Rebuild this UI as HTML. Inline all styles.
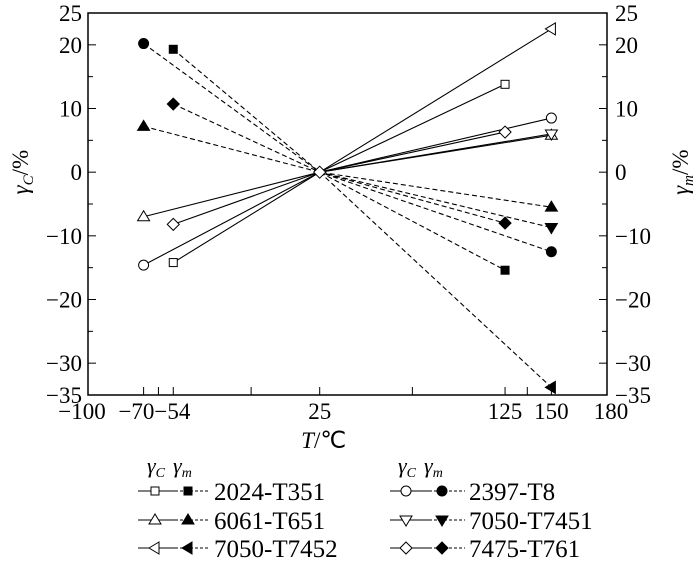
<!DOCTYPE html>
<html><head><meta charset="utf-8"><style>
body{margin:0;background:#fff;font-family:"Liberation Serif","Times New Roman",serif}
svg text{font-family:"Liberation Serif","Times New Roman",serif;fill:#000}
</style></head><body>
<svg id="c" width="700" height="570" xmlns="http://www.w3.org/2000/svg" font-family="Liberation Serif, serif"></svg>
<script>
const xTicksMajor=[-100,-70,-54,25,125,150,180];
const xTicksMinor=[-62,-12,75,137];
const yTicks=[25,20,10,0,-10,-20,-30,-35];
const yMinor=[15,5,-5,-15,-25];
const names=["2024-T351","6061-T651","7050-T7452","2397-T8","7050-T7451","7475-T761"];
const markers=["square","tri-up","tri-left","circle","tri-down","diamond"];
const cX=[[-54,25,125],[-70,25,150],[25,150],[-70,25,150],[25,150],[-54,25,125]];
const cY=[[-14.2,0,13.8],[-7.0,0,5.8],[0,22.5],[-14.6,0,8.5],[0,6.0],[-8.2,0,6.3]];
const mX=[[-54,25,125],[-70,25,150],[25,150],[-70,25,150],[25,150],[-54,25,125]];
const mY=[[19.3,0,-15.4],[7.2,0,-5.5],[0,-33.8],[20.2,0,-12.5],[0,-8.7],[10.7,0,-8.0]];

const L=88,R=607,T=13,B=395,xmin=-100,xmax=180,ymin=-35,ymax=25;
const sx=v=>L+(v-xmin)/(xmax-xmin)*(R-L);
const sy=v=>B-(v-ymin)/(ymax-ymin)*(B-T);
const svg=document.getElementById('c');
const NS="http://www.w3.org/2000/svg";
function mk(tag,at,parent){const e=document.createElementNS(NS,tag);for(const k in at)e.setAttribute(k,at[k]);(parent||svg).appendChild(e);return e;}
function txt(s,x,y,anchor,size,name){const t=mk('text',{x:x,y:y,'text-anchor':anchor,'font-size':size,'font-family':'Liberation Serif, serif'});t.textContent=s;


return t;}
function marker(type,x,y,filled,name){
const f=filled?'#000':'#fff';const s=5;let e;
if(type==='square')e=mk('rect',{x:x-s+1,y:y-s+1,width:2*s-2,height:2*s-2,fill:f,stroke:'#000','stroke-width':1});
else if(type==='circle')e=mk('circle',{cx:x,cy:y,r:s,fill:f,stroke:'#000','stroke-width':1});
else{let p;
if(type==='tri-up')p=[[x,y-s-1],[x-s-1,y+s-1],[x+s+1,y+s-1]];
if(type==='tri-down')p=[[x,y+s+1],[x-s-1,y-s+1],[x+s+1,y-s+1]];
if(type==='tri-left')p=[[x-s-1,y],[x+s-1,y-s-1],[x+s-1,y+s+1]];
if(type==='diamond')p=[[x,y-s-1],[x+s+1,y],[x,y+s+1],[x-s-1,y]];
e=mk('polygon',{points:p.map(q=>q.join(',')).join(' '),fill:f,stroke:'#000','stroke-width':1});}


return e;}
const fr=mk('rect',{x:L,y:T,width:R-L,height:B-T,fill:'none',stroke:'#000','stroke-width':1.5});


xTicksMajor.concat(xTicksMinor).forEach(v=>{const ln=mk('line',{x1:sx(v),x2:sx(v),y1:B,y2:B-8,stroke:'#000','stroke-width':1});

});
txt('−100',sx(-100)-6,B+24,'middle',23,'x-tick-label');
txt('−70−54',(sx(-70)+sx(-54))/2-4,B+24,'middle',23,'x-tick-label');
[25,125,150,180].forEach(v=>txt(String(v),sx(v)+(v===180?4:0),B+24,'middle',23,'x-tick-label'));
yTicks.forEach(v=>{[[L,L+8],[R,R-8]].forEach(p=>{const ln=mk('line',{x1:p[0],x2:p[1],y1:sy(v),y2:sy(v),stroke:'#000','stroke-width':1});

});
const s=v<0?'−'+(-v):String(v);
txt(s,L-6,sy(v)+8,'end',23,'y-tick-label-left');
txt(s,R+8,sy(v)+8,'start',23,'y-tick-label-right');});
yMinor.forEach(v=>{[[L,L+5],[R,R-5]].forEach(p=>{const ln=mk('line',{x1:p[0],x2:p[1],y1:sy(v),y2:sy(v),stroke:'#000','stroke-width':1});

});});
const yl=mk('text',{x:0,y:0,'text-anchor':'middle','font-size':23,'font-family':'Liberation Serif, serif',transform:`translate(28,${sy(0)}) rotate(-90)`});
yl.innerHTML='<tspan font-style="italic">γ</tspan><tspan font-style="italic" font-size="15" dy="5">C</tspan><tspan dy="-5">/%</tspan>';


const yr=mk('text',{x:0,y:0,'text-anchor':'middle','font-size':23,'font-family':'Liberation Serif, serif',transform:`translate(688,${sy(0)}) rotate(-90)`});
yr.innerHTML='<tspan font-style="italic">γ</tspan><tspan font-style="italic" font-size="15" dy="5">m</tspan><tspan dy="-5">/%</tspan>';


const xt=mk('text',{x:sx(25)+4,y:448,'text-anchor':'middle','font-size':23,'font-family':'Liberation Serif, serif'});
xt.innerHTML='<tspan font-style="italic">T</tspan>/℃';


for(let i=0;i<names.length;i++){
const pc=cX[i].map((v,j)=>sx(v)+','+sy(cY[i][j])).join(' ');
const l1=mk('polyline',{points:pc,fill:'none',stroke:'#000','stroke-width':1.1});


const pm=mX[i].map((v,j)=>sx(v)+','+sy(mY[i][j])).join(' ');
const l2=mk('polyline',{points:pm,fill:'none',stroke:'#000','stroke-width':1.1,'stroke-dasharray':'5,3'});


}
for(let i=0;i<names.length;i++){
cX[i].forEach((v,j)=>{if(v!==25)marker(markers[i],sx(v),sy(cY[i][j]),false,'point-c-'+names[i]);});
mX[i].forEach((v,j)=>{if(v!==25)marker(markers[i],sx(v),sy(mY[i][j]),true,'point-m-'+names[i]);});
}
marker('diamond',sx(25),sy(0),false,'center-point');
const cols=[[138,155,188,214],[390,406,442,469]];
cols.forEach((c,k)=>{
const h=mk('text',{x:c[1]-8,y:473,'font-size':22,'font-style':'italic','font-family':'Liberation Serif, serif'});
h.innerHTML='γ<tspan font-size="14" dy="4">C</tspan><tspan dy="-4" dx="8">γ</tspan><tspan font-size="14" dy="4">m</tspan>';


for(let r=0;r<3;r++){const i=k*3+r;const y=[498,527,555][r]-7;
const g=mk('g',{});


mk('line',{x1:c[0],x2:c[2]-10,y1:y,y2:y,stroke:'#000','stroke-width':1},g);
mk('line',{x1:c[2]-8,x2:c[3]-4,y1:y,y2:y,stroke:'#000','stroke-width':1,'stroke-dasharray':'3,2'},g);
g.appendChild(marker(markers[i],c[1],y,false,'legend-marker-c'));
g.appendChild(marker(markers[i],c[2],y,true,'legend-marker-m'));
const t=txt(names[i],c[3],y+9,'start',25,'legend-label');g.appendChild(t);}
});
</script>
</body></html>
